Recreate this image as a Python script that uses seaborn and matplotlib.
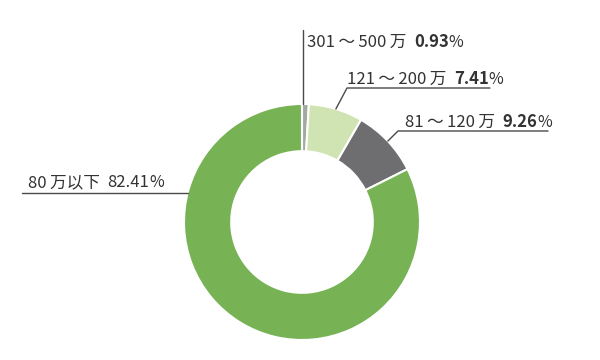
import numpy as np
import matplotlib
matplotlib.use("Agg")
import matplotlib.pyplot as plt
import seaborn as sns

labels = ["301\u2009～\u2009500\u2009万", "121\u2009～\u2009200\u2009万", "81\u2009～\u2009120\u2009万", "80\u2009万以下"]
values = [0.93, 7.41, 9.26, 82.41]
pct_text = ["0.93", "7.41", "9.26", "82.41"]
colors = ["#a2a9a0", "#cfe4b2", "#6e6e70", "#77b255"]

sns.set_theme(style="white")
FAM = ["Noto Sans CJK SC", "DejaVu Sans"]
plt.rcParams["font.family"] = FAM

fig = plt.figure(figsize=(6, 3.6), dpi=100)
ax = fig.add_axes([0, 0, 1, 1])
H = 360
cx, cy, R = 302, H - 222, 118
wedges, _ = ax.pie(values, colors=colors, startangle=90, counterclock=False,
                   center=(cx, cy), radius=R,
                   wedgeprops=dict(width=R * 0.40, edgecolor="white", linewidth=1.5))
ax.set_xlim(0, 600)
ax.set_ylim(0, H)
ax.set_aspect("equal")
ax.axis("off")

def edge_point(w, frac=0.5):
    ang = np.deg2rad(w.theta1 + (w.theta2 - w.theta1) * frac)
    return cx + R * np.cos(ang), cy + R * np.sin(ang)

lc = "#4a4a4a"
tc = "#333333"
fs = 12

def put_label(x, y, lab, pct, bold=True):
    t = ax.text(x, H - y, lab + "  ", fontsize=fs, color=tc, ha="left", va="baseline")
    t2 = ax.annotate(pct, xy=(1, 0), xycoords=t, fontsize=fs, color=tc,
                     fontweight="bold" if bold else "normal", ha="left", va="bottom")
    ax.annotate("%", xy=(1, 0), xycoords=t2, fontsize=fs - 0.5, color=tc,
                ha="left", va="bottom")

# 301~500
px, py = edge_point(wedges[0], 0.85)
ax.plot([px, px], [py, H - 30], color=lc, lw=1)
put_label(px + 4, 47, labels[0], pct_text[0])

# 121~200
px, py = edge_point(wedges[1])
ax.plot([px, 347, 490], [py, H - 88, H - 88], color=lc, lw=1)
put_label(347, 84, labels[1], pct_text[1])

# 81~120
px, py = edge_point(wedges[2])
ax.plot([px, 398, 548], [py, H - 131, H - 131], color=lc, lw=1)
put_label(405, 127, labels[2], pct_text[2])

# 80 以下
yl = H - 193
xe = cx - np.sqrt(R ** 2 - (yl - cy) ** 2)
ax.plot([22, xe], [yl, yl], color=lc, lw=1)
put_label(28, 187, labels[3], pct_text[3], bold=False)

fig.savefig("out.png", dpi=100)
